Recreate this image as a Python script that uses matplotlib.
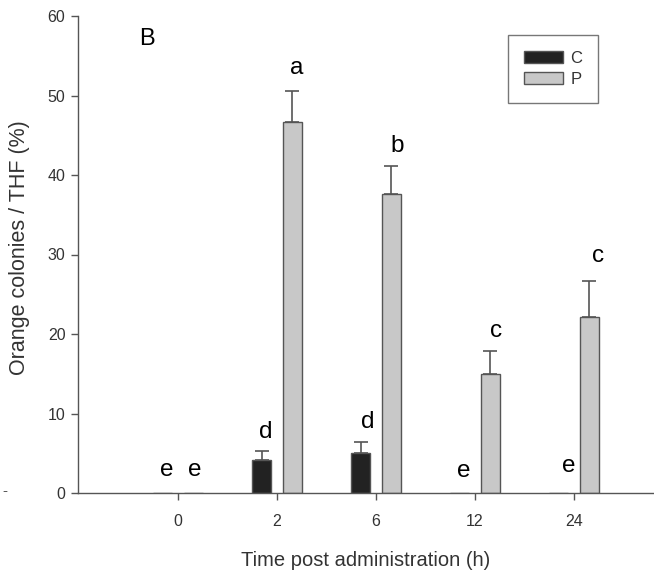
import matplotlib
matplotlib.use('Agg')
import matplotlib.pyplot as plt
import numpy as np

plt.rcParams['font.family'] = ['Liberation Sans', 'DejaVu Sans']

# Data
times = ['0', '2', '6', '12', '24']
c_mean = [0.0, 4.2, 5.0, 0.0, 0.0]
c_err = [0.0, 1.1, 1.4, 0.0, 0.0]
p_mean = [0.0, 46.7, 37.6, 15.0, 22.2]
p_err = [0.0, 3.9, 3.5, 2.8, 4.5]

# significance letters: (group index, x offset, baseline y, letter)
letter_txt = ['e', 'e', 'd', 'a', 'd', 'b', 'e', 'c', 'e', 'c']
letter_grp = [0, 0, 1, 1, 2, 2, 3, 3, 4, 4]
letter_dx = [-0.11, 0.17, -0.11, 0.20, -0.08, 0.22, -0.11, 0.21, -0.05, 0.24]
letter_y = [2.1, 2.1, 6.9, 52.7, 8.2, 42.9, 2.0, 19.6, 2.6, 29.1]

x = np.arange(len(times))
w = 0.19
off = 0.155
edge = '#555555'
txt = '#333333'

fig = plt.figure(figsize=(6.54, 5.72), dpi=100)
ax = fig.add_axes([78/654, 79/572, 576/654, 477/572])

ax.bar(x - off, c_mean, w, color='#222222', edgecolor=edge, linewidth=1.0, label='C', zorder=2)
ax.bar(x + off, p_mean, w, color='#c8c8c8', edgecolor=edge, linewidth=1.0, label='P', zorder=2)

c_mean = np.array(c_mean); p_mean = np.array(p_mean)
mc = c_mean > 0
mp = p_mean > 0
ax.errorbar(x[mc] - off, c_mean[mc], yerr=[np.zeros(mc.sum()), np.array(c_err)[mc]],
            fmt='none', ecolor=edge, elinewidth=1.2, capsize=5, capthick=1.2, zorder=1)
ax.errorbar(x[mp] + off, p_mean[mp], yerr=[np.zeros(mp.sum()), np.array(p_err)[mp]],
            fmt='none', ecolor=edge, elinewidth=1.2, capsize=5, capthick=1.2, zorder=1)

for t, g, dx, yy in zip(letter_txt, letter_grp, letter_dx, letter_y):
    ax.text(g + dx, yy, t, ha='center', va='baseline', fontsize=17.5, color='black')

ax.text(-0.31, 56.35, 'B', ha='center', va='baseline', fontsize=17, color='black')

ax.set_xlim(-1.01, 4.81)
ax.set_ylim(0, 60)
ax.set_xticks(x)
ax.set_xticklabels(times)
ax.set_yticks(range(0, 61, 10))
ax.tick_params(axis='both', colors=edge, labelcolor=txt, labelsize=11.5, length=5, width=1.0)
ax.tick_params(axis='x', pad=10)
ax.tick_params(axis='y', pad=4)
for s in ['top', 'right']:
    ax.spines[s].set_visible(False)
for s in ['left', 'bottom']:
    ax.spines[s].set_color(edge)
    ax.spines[s].set_linewidth(1.0)

ax.set_xlabel('Time post administration (h)', fontsize=14.5, color=txt, labelpad=16)
ax.set_ylabel('Orange colonies / THF (%)', fontsize=15.5, color=txt, labelpad=13)
ax.yaxis.label.set_y(0.515)

leg = ax.legend(loc='upper left', bbox_to_anchor=(508/654, 1 - 35/572), bbox_transform=fig.transFigure,
                fontsize=12, handlelength=2.35, handleheight=0.78, handletextpad=0.45,
                labelspacing=0.35, borderpad=0.95, borderaxespad=0, fancybox=False)
leg.get_frame().set_edgecolor(edge)
leg.get_frame().set_linewidth(1.0)
for t in leg.get_texts():
    t.set_color(txt)

fig.text(5/654, 1 - 491/572, '-', ha='center', va='center', fontsize=11, color=edge)

fig.savefig('out.png', dpi=100)
